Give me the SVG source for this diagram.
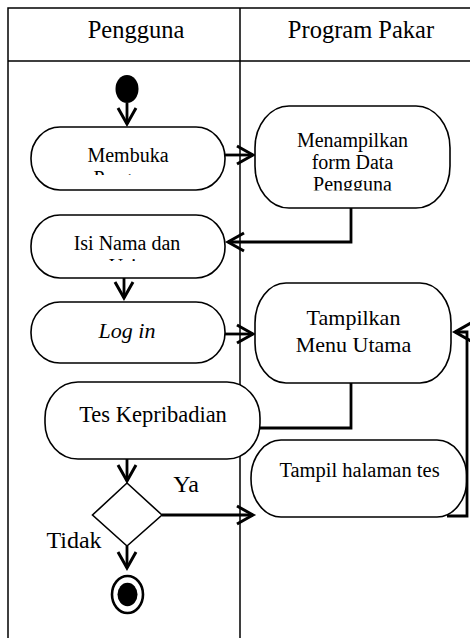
<svg xmlns="http://www.w3.org/2000/svg" width="470" height="638" viewBox="0 0 470 638" font-family="'Liberation Serif', 'Times New Roman', 'DejaVu Serif', serif">
<style>
.lane{fill:none;stroke:#000;stroke-width:1.5}
.node{fill:#fff;stroke:#000;stroke-width:1.6}
.t{fill:#000;text-anchor:middle}
.c{fill:none;stroke:#000;stroke-width:2.8}
</style>
<defs>
<marker id="arr" markerUnits="userSpaceOnUse" markerWidth="24" markerHeight="24" refX="17" refY="10" orient="auto" overflow="visible">
<path d="M1,1 L17,10 L1,19" fill="none" stroke="#000" stroke-width="3"/>
</marker>
<clipPath id="clipA"><rect x="31" y="127" width="194" height="48"/></clipPath>
<clipPath id="clipB"><rect x="255" y="106" width="195" height="84.5"/></clipPath>
<clipPath id="clipC"><rect x="31" y="215" width="194" height="46"/></clipPath>
</defs>
<g id="lanes">
<path class="lane" d="M8,638 V8 H470 M8,61 H470 M240,8 V638"/>
<text class="t" x="136" y="38" font-size="24.5">Pengguna</text>
<text class="t" x="361" y="38" font-size="24.5">Program Pakar</text>
</g>
<g id="connectors">
<path class="c" d="M127,103 V124" marker-end="url(#arr)"/>
<path class="c" d="M225,155 H253" marker-end="url(#arr)"/>
<path class="c" d="M351,208 V242 H228" marker-end="url(#arr)"/>
<path class="c" d="M124,278 V298" marker-end="url(#arr)"/>
<path class="c" d="M225,334 H253" marker-end="url(#arr)"/>
<path class="c" d="M351,383 V428 H258"/>
<path class="c" d="M127,459 V481" marker-end="url(#arr)"/>
<path class="c" d="M162,515 H253" marker-end="url(#arr)"/>
<path class="c" d="M127,546 V568" marker-end="url(#arr)"/>
</g>
<g id="start">
<ellipse cx="127" cy="89" rx="11.5" ry="14" fill="#000"/>
</g>
<g id="membuka">
<rect class="node" x="31" y="127" width="194" height="63" rx="29" ry="31"/>
<g clip-path="url(#clipA)">
<text class="t" x="128" y="162" font-size="20">Membuka</text>
<text class="t" x="128" y="184.5" font-size="20">Program</text>
</g>
</g>
<g id="menampilkan">
<rect class="node" x="255" y="106" width="195" height="102" rx="34" ry="42"/>
<g clip-path="url(#clipB)">
<text class="t" x="352.5" y="146.5" font-size="20">Menampilkan</text>
<text class="t" x="352.5" y="168.5" font-size="20">form Data</text>
<text class="t" x="352.5" y="191" font-size="20">Pengguna</text>
</g>
</g>
<g id="isi">
<rect class="node" x="31" y="215" width="194" height="63" rx="29" ry="31"/>
<g clip-path="url(#clipC)">
<text class="t" x="127" y="250" font-size="20">Isi Nama dan</text>
<text class="t" x="127" y="272.5" font-size="20">Usia</text>
</g>
</g>
<g id="login">
<rect class="node" x="31" y="302" width="194" height="61" rx="29" ry="30"/>
<text class="t" x="127" y="338" font-size="22" font-style="italic">Log in</text>
</g>
<g id="tampilkan">
<rect class="node" x="255" y="283" width="196" height="100" rx="31" ry="40"/>
<text class="t" x="353.5" y="325" font-size="22">Tampilkan</text>
<text class="t" x="353.5" y="351.5" font-size="22">Menu Utama</text>
</g>
<g id="tes">
<rect class="node" x="45" y="382" width="215" height="77" rx="33" ry="36"/>
<text class="t" x="153" y="421.5" font-size="22.5">Tes Kepribadian</text>
</g>
<g id="tampil-tes">
<rect class="node" x="251" y="440" width="216" height="77" rx="30" ry="38"/>
<text class="t" x="359.5" y="476.5" font-size="20.5">Tampil halaman tes</text>
</g>
<g id="connector-back">
<path class="c" d="M447,516 H467 V332 H455" marker-end="url(#arr)"/>
</g>
<g id="decision">
<path class="node" d="M127,483 L162,515 L127,546 L92.5,515 Z"/>
<text class="t" x="186" y="492" font-size="24">Ya</text>
<text class="t" x="74" y="548" font-size="24">Tidak</text>
</g>
<g id="end">
<ellipse cx="127.5" cy="594.5" rx="15.5" ry="18.5" fill="#fff" stroke="#000" stroke-width="2.6"/>
<ellipse cx="127.5" cy="594.5" rx="10" ry="11.8" fill="#000"/>
</g>
</svg>
